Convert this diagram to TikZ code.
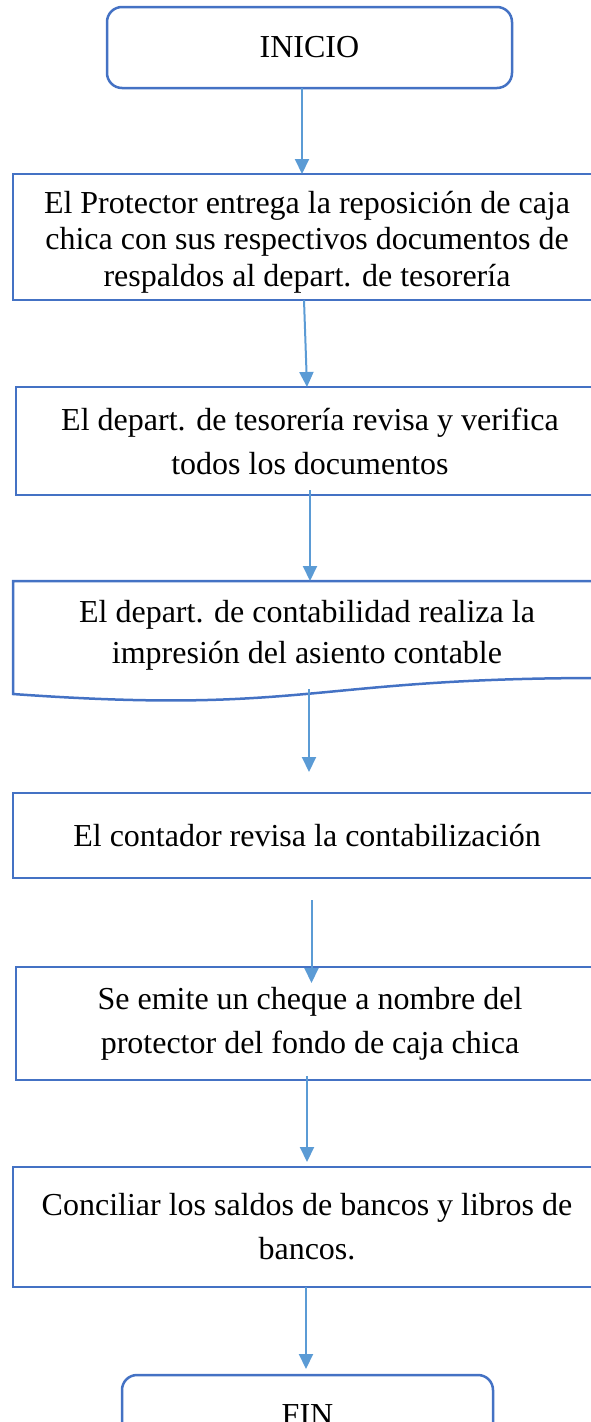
\documentclass[tikz,border=0pt]{standalone}
\usepackage{fontspec}
\setmainfont{Liberation Serif}
\usetikzlibrary{arrows.meta, positioning, calc}

\definecolor{boxblue}{HTML}{4472C4}
\definecolor{arrowblue}{HTML}{5B9BD5}

\begin{document}
\begin{tikzpicture}[
    font=\fontsize{32}{44}\selectfont,
    terminal/.style={rectangle, rounded corners=15pt, draw=boxblue, line width=2.5pt, minimum width=405pt, minimum height=81pt, align=center, inner sep=0pt, outer sep=0pt},
    process/.style={rectangle, draw=boxblue, line width=2.5pt, minimum width=588pt, align=center, inner sep=0pt, outer sep=0pt},
    docbox/.style={rectangle, minimum width=588pt, minimum height=108pt, align=center, inner sep=0pt, outer sep=0pt},
    arrow/.style={-{Triangle[length=15pt, width=14pt]}, line width=2pt, draw=arrowblue}
]
\useasboundingbox (0,0) rectangle (590pt,-1422pt);

\node[terminal] (inicio) at (309.5pt,-47.5pt) {INICIO};

\node[process, minimum height=126pt, font=\fontsize{32}{36.5}\selectfont, below=86pt of inicio, xshift=-2.5pt] (entrega) {\rule{0pt}{32pt}El Protector entrega la reposición de caja\\chica con sus respectivos documentos de\\respaldos al depart. de tesorería};
\node[process, minimum height=108pt, below=87pt of entrega, xshift=3pt] (revisa) {El depart. de tesorería revisa y verifica\\todos los documentos};
\node[docbox, font=\fontsize{32}{41}\selectfont, below=86pt of revisa, xshift=-3pt] (asiento) {El depart. de contabilidad realiza la\\impresión del asiento contable};
\node[process, minimum height=85pt, below=104pt of asiento] (contador) {El contador revisa la contabilización};
\node[process, minimum height=113pt, below=89pt of contador, xshift=3pt] (cheque) {Se emite un cheque a nombre del\\protector del fondo de caja chica};
\node[process, minimum height=120pt, below=87pt of cheque, xshift=-3pt] (conciliar) {Conciliar los saldos de bancos y libros de\\bancos.};

\node[terminal, minimum width=371pt, below=88pt of conciliar, xshift=0.5pt] (fin) {FIN};

% document shape with wavy bottom
\draw[draw=boxblue, line width=2.5pt] (asiento.north west) -- (asiento.north east)
    -- ($(asiento.north east)+(0,-97pt)$)
    .. controls ($(asiento.north)+(0,-97pt)$) and ($(asiento.north)+(0,-134pt)$)
    .. ($(asiento.north west)+(0,-113pt)$) -- cycle;

\draw[arrow] ([xshift=-7.5pt]inicio.south) -- ([xshift=-5pt]entrega.north);
\draw[arrow] ([xshift=-3pt]entrega.south) -- ([xshift=-3pt]revisa.north);
\draw[arrow] ([yshift=5pt]revisa.south) -- ([xshift=3pt]asiento.north);
\draw[arrow] ([xshift=2pt]asiento.south) -- ([xshift=2pt, yshift=21pt]contador.north);
\draw[arrow] ([xshift=4.5pt, yshift=-22pt]contador.south) -- ([xshift=1.5pt, yshift=-16pt]cheque.north);
\draw[arrow] ([xshift=-3pt, yshift=4pt]cheque.south) -- ([yshift=5pt]conciliar.north);
\draw[arrow] ([xshift=-1pt]conciliar.south) -- ([xshift=-1.5pt, yshift=6pt]fin.north);

\end{tikzpicture}
\end{document}
